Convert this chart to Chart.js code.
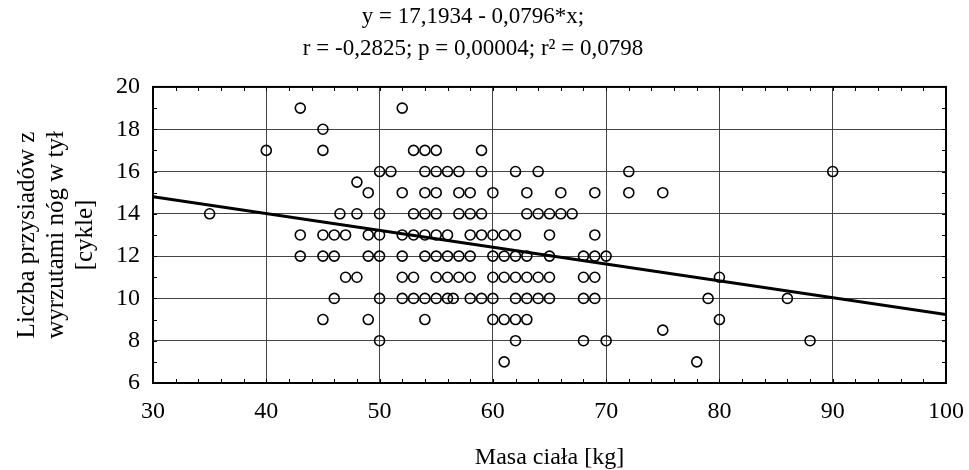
<!DOCTYPE html>
<html><head><meta charset="utf-8">
<script src="https://cdn.jsdelivr.net/npm/chart.js@4/dist/chart.umd.min.js"></script>
<style>html,body{margin:0;padding:0;background:#fff}</style>
</head><body>
<canvas id="c" width="969" height="470" style="display:block;width:969px;height:470px"></canvas>
<script>
// ---- data ----
const titleLines = ['y = 17,1934 - 0,0796*x;', 'r = -0,2825; p = 0,00004; r² = 0,0798'];
const xAxisTitle = 'Masa ciała [kg]';
const yAxisTitle = ['Liczba przysiadów z', 'wyrzutami nóg w tył', '[cykle]'];
const xTickValues = [30, 40, 50, 60, 70, 80, 90, 100];
const yTickValues = [6, 8, 10, 12, 14, 16, 18, 20];

// cycle count levels and body masses observed at each level
const cycleLevels = [19, 18, 17, 16, 15.5, 15, 14, 13, 12, 11, 10, 9, 8.5, 8, 7];
const massesAtLevel = [
  [43, 52],
  [45],
  [40, 45, 53, 54, 55, 59],
  [50, 51, 54, 55, 56, 57, 59, 62, 64, 72, 90],
  [48],
  [49, 52, 54, 55, 57, 58, 60, 63, 66, 69, 72, 75],
  [35, 46.5, 48, 50, 53, 54, 55, 57, 58, 59, 63, 64, 65, 66, 67],
  [43, 45, 46, 47, 49, 50, 52, 53, 54, 55, 56, 58, 59, 60, 61, 62, 65, 69],
  [43, 45, 46, 49, 50, 52, 54, 55, 56, 57, 58, 60, 61, 62, 63, 65, 68, 69, 70],
  [47, 48, 52, 53, 55, 56, 57, 58, 60, 61, 62, 63, 64, 65, 68, 69, 80],
  [46, 50, 52, 53, 54, 55, 56, 56.5, 58, 59, 60, 62, 63, 64, 65, 68, 69, 79, 86],
  [45, 49, 54, 60, 61, 62, 63, 80],
  [75],
  [50, 62, 68, 70, 88],
  [61, 78]
];

// regression line (from the equation in the title)
const regIntercept = 17.1934;
const regSlope = -0.0796;
const regX = [30, 100];

// ---- build ----
const scatterPoints = [];
cycleLevels.forEach((lv, i) => massesAtLevel[i].forEach(m => scatterPoints.push({x: m, y: lv})));
const regPoints = regX.map(x => ({x: x, y: regIntercept + regSlope * x}));

const FONT = "'Liberation Serif', 'Times New Roman', serif";

const framePlugin = {
  id: 'frame',
  beforeDatasetsDraw(chart) {
    const {ctx, chartArea: a, scales: {x, y}} = chart;
    ctx.save();
    ctx.strokeStyle = '#000';
    ctx.lineWidth = 1;
    const L = 4;
    for (let v = 32; v < 100; v += 2) {
      const px = Math.round(x.getPixelForValue(v)) + 0.5;
      ctx.beginPath();
      ctx.moveTo(px, a.bottom); ctx.lineTo(px, a.bottom - L);
      ctx.moveTo(px, a.top); ctx.lineTo(px, a.top + L);
      ctx.stroke();
    }
    for (let v = 7; v < 20; v += 1) {
      const py = Math.round(y.getPixelForValue(v)) + 0.5;
      ctx.beginPath();
      ctx.moveTo(a.left, py); ctx.lineTo(a.left + L, py);
      ctx.moveTo(a.right, py); ctx.lineTo(a.right - L, py);
      ctx.stroke();
    }
    ctx.lineWidth = 2;
    ctx.strokeRect(a.left, a.top, a.right - a.left, a.bottom - a.top);
    ctx.restore();
  }
};

new Chart(document.getElementById('c'), {
  type: 'scatter',
  data: {
    datasets: [
      {
        type: 'line',
        data: regPoints,
        borderColor: '#000',
        borderWidth: 3,
        pointRadius: 0,
        fill: false,
        order: 1
      },
      {
        data: scatterPoints,
        pointStyle: 'circle',
        pointRadius: 5,
        pointBorderWidth: 1.6,
        pointBorderColor: '#000',
        pointBackgroundColor: 'rgba(0,0,0,0)',
        order: 0
      }
    ]
  },
  options: {
    responsive: false,
    animation: false,
    devicePixelRatio: 1,
    layout: {padding: {left: 0, right: 23, top: 0, bottom: 0}},
    plugins: {
      legend: {display: false},
      tooltip: {enabled: false},
      title: {
        display: true,
        text: titleLines,
        color: '#000',
        font: {family: FONT, size: 23, weight: 'normal', lineHeight: 1.39},
        padding: {top: 1, bottom: 22}
      }
    },
    scales: {
      x: {
        type: 'linear',
        min: 30, max: 100,
        afterBuildTicks: s => { s.ticks = xTickValues.map(v => ({value: v})); },
        afterFit: s => { s.height = 87; s.paddingLeft = 0; s.paddingRight = 0; },
        ticks: {color: '#000', font: {family: FONT, size: 24}, padding: 14, maxRotation: 0},
        grid: {color: '#444', lineWidth: 1, drawTicks: false},
        border: {display: true, color: '#000', width: 2},
        title: {display: true, text: xAxisTitle, color: '#000', font: {family: FONT, size: 24, lineHeight: 1}, padding: {top: 0, bottom: 0}}
      },
      y: {
        type: 'linear',
        min: 6, max: 20,
        afterBuildTicks: s => { s.ticks = yTickValues.map(v => ({value: v})); },
        afterFit: s => { s.width = 153; s.paddingTop = 0; s.paddingBottom = 0; },
        ticks: {color: '#000', font: {family: FONT, size: 24}, padding: 13},
        grid: {color: '#444', lineWidth: 1, drawTicks: false},
        border: {display: true, color: '#000', width: 2},
        title: {display: true, text: yAxisTitle, color: '#000', font: {family: FONT, size: 25, lineHeight: 1.16}, padding: {top: 13, bottom: 0}}
      }
    }
  },
  plugins: [framePlugin]
});
</script>
</body></html>
